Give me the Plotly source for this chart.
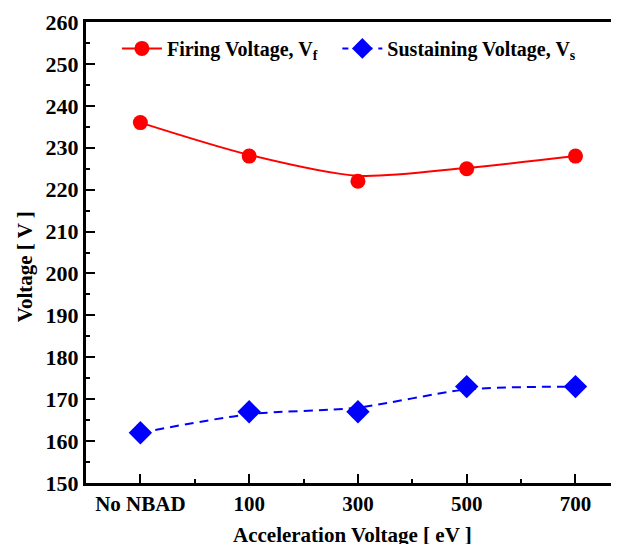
import plotly.graph_objects as go

categories = ["No NBAD", "100", "300", "500", "700"]
firing = [236, 228, 222, 225, 228]
sustaining = [162, 167, 167, 173, 173]
# smoothed (fitted) curves
firing_fit = [236, 228.3, 223.3, 225.2, 228]
sustaining_fit = [162, 166.4, 168, 172.3, 173]

xs = list(range(len(categories)))
FONT = "'Times New Roman', 'Liberation Serif', Times, serif"

fig = go.Figure()
fig.add_trace(go.Scatter(x=xs, y=firing_fit, mode="lines", line=dict(color="#ff0000", width=2, shape="spline", smoothing=0.8),
                         showlegend=False, hoverinfo="skip"))
fig.add_trace(go.Scatter(x=xs, y=sustaining_fit, mode="lines", line=dict(color="#0000ff", width=2, dash="9px,6px", shape="spline", smoothing=0.8),
                         showlegend=False, hoverinfo="skip"))
fig.add_trace(go.Scatter(x=xs, y=firing, mode="markers", marker=dict(symbol="circle", size=15, color="#ff0000"), showlegend=False))
fig.add_trace(go.Scatter(x=xs, y=sustaining, mode="markers", marker=dict(symbol="diamond", size=18, color="#0000ff"), showlegend=False))
# legend entries
fig.add_trace(go.Scatter(x=[None], y=[None], mode="lines+markers", name="<b>Firing Voltage, V<sub>f</sub></b>&nbsp;&nbsp;&nbsp;",
                         line=dict(color="#ff0000", width=2), marker=dict(symbol="circle", size=15, color="#ff0000")))
fig.add_trace(go.Scatter(x=[None], y=[None], mode="lines+markers", name="<b>Sustaining Voltage, V<sub>s</sub></b>",
                         line=dict(color="#0000ff", width=2, dash="6px,6px"), marker=dict(symbol="diamond", size=17, color="#0000ff")))

fig.update_layout(
    width=611, height=536,
    margin=dict(l=78, r=0, t=14, b=61),
    paper_bgcolor="white", plot_bgcolor="white",
    font=dict(family=FONT, color="black", size=21),
    showlegend=True,
    legend=dict(orientation="h", x=0.058, y=0.985, xanchor="left", yanchor="top",
                bgcolor="rgba(0,0,0,0)", font=dict(size=20, family=FONT), itemwidth=40, tracegroupgap=0),
    xaxis=dict(range=[-0.5, 4.40], tickmode="array", tickvals=xs, ticktext=["<b>%s</b>" % c for c in categories],
               showline=True, linewidth=3, linecolor="black", mirror=True,
               ticks="inside", ticklen=9, tickwidth=2, tickcolor="black", showgrid=False, zeroline=False,
               minor=dict(tickmode="array", tickvals=[-0.5, 0.5, 1.5, 2.5, 3.5], ticks="inside", ticklen=4, tickwidth=2, tickcolor="black"),
               tickfont=dict(size=21, family=FONT)),
    yaxis=dict(range=[150, 260], tickmode="linear", tick0=150, dtick=10,
               showline=True, linewidth=3, linecolor="black", mirror=False,
               ticks="inside", ticklen=9, tickwidth=2, tickcolor="black", showgrid=False, zeroline=False,
               minor=dict(dtick=5, ticks="inside", ticklen=4, tickwidth=2, tickcolor="black"),
               tickfont=dict(size=22, family=FONT), tickprefix="<b>", ticksuffix="</b>"),
    annotations=[
        dict(text="<b>Acceleration Voltage [ eV ]</b>", xref="paper", yref="paper", x=0.5, y=-0.082,
             xanchor="center", yanchor="top", showarrow=False, font=dict(size=21, family=FONT)),
        dict(text="<b>Voltage [ V ]</b>", xref="paper", yref="paper", x=-0.1144, y=0.468, textangle=-90,
             xanchor="center", yanchor="middle", showarrow=False, font=dict(size=21, family=FONT)),
    ],
)

fig.write_html("out.html")
